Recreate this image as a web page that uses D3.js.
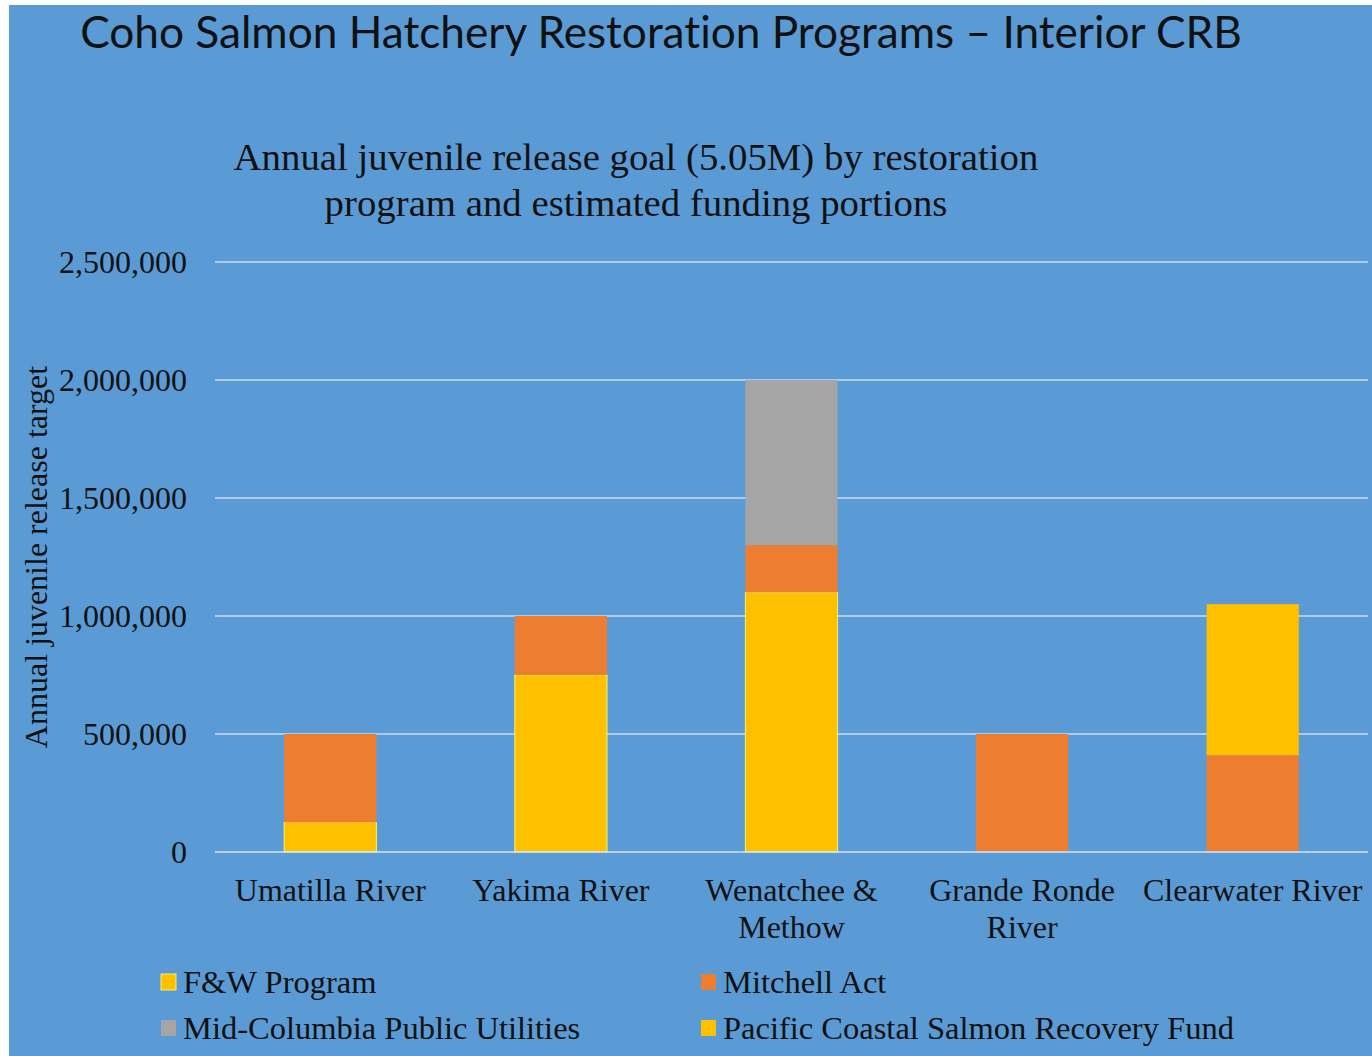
<!DOCTYPE html>
<html lang="en">
    <head>
        <title>Coho Salmon Hatchery Restoration Programs</title>
        <meta charset="utf-8">
        <script src="https://d3js.org/d3.v7.min.js"></script>
        <style>
            body { margin: 0; background: #ffffff; }
            svg { display: block; }
        </style>
    </head>
    <body>
        <div id="chart"></div>
    </body>
</html>

<script type="text/javascript">

// Chart data
var categories = ["Umatilla River", "Yakima River", "Wenatchee & Methow", "Grande Ronde River", "Clearwater River"];
var categoryLines = [["Umatilla River"], ["Yakima River"], ["Wenatchee &", "Methow"], ["Grande Ronde", "River"], ["Clearwater River"]];
var seriesNames = ["F&W Program", "Mitchell Act", "Mid-Columbia Public Utilities", "Pacific Coastal Salmon Recovery Fund"];
var fwProgram = [125000, 750000, 1100000, 0, 0];
var mitchellAct = [375000, 250000, 200000, 500000, 410000];
var midColumbia = [0, 0, 700000, 0, 0];
var pacificCoastal = [0, 0, 0, 0, 640000];
var yTicks = [0, 500000, 1000000, 1500000, 2000000, 2500000];

var width = 1372;
var height = 1056;
var serif = "'Liberation Serif', 'Times New Roman', serif";
var colours = ["#FFC000", "#ED7D31", "#A5A5A5", "#FFC000"];
var strokes = ["#F4F46A", "none", "none", "none"];

// build a table the stack layout can use
var table = categories.map(function(c, i){
    return {
        category: c,
        s0: fwProgram[i],
        s1: mitchellAct[i],
        s2: midColumbia[i],
        s3: pacificCoastal[i]
    };
});
var stacked = d3.stack().keys(["s0", "s1", "s2", "s3"])(table);

var svg = d3.select("#chart").append("svg")
    .attr("width", width)
    .attr("height", height);

// blue slide background
svg.append("rect")
    .attr("x", 9)
    .attr("y", 5)
    .attr("width", width - 9)
    .attr("height", height - 5)
    .attr("fill", "#5B9BD5");

// Title
svg.append("text")
    .attr("x", 661)
    .attr("y", 48)
    .attr("text-anchor", "middle")
    .attr("font-family", "Lato, 'Open Sans', sans-serif")
    .attr("font-size", 44.2)
    .style("font-variant-ligatures", "none")
    .attr("fill", "#111111")
    .text("Coho Salmon Hatchery Restoration Programs \u2013 Interior CRB");

// Chart subtitle
var subtitle = ["Annual juvenile release goal (5.05M) by restoration", "program and estimated funding portions"];
svg.selectAll(".subtitle")
    .data(subtitle)
    .enter().append("text")
    .attr("class", "subtitle")
    .attr("x", 636)
    .attr("y", function(d, i){ return 170 + i * 46; })
    .attr("text-anchor", "middle")
    .attr("font-family", serif)
    .attr("font-size", 38.8)
    .attr("fill", "#111111")
    .text(function(d){ return d; });

// Scales
var yScale = d3.scaleLinear()
    .domain([0, 2500000])
    .range([852, 262]);

var xScale = d3.scaleBand()
    .domain(categories)
    .range([215, 1368])
    .paddingInner(0.6)
    .paddingOuter(0.3);

// gridlines
svg.append("g")
    .selectAll("line")
    .data(yTicks.slice(1))
    .enter().append("line")
    .attr("x1", 215)
    .attr("x2", 1368)
    .attr("y1", function(d){ return yScale(d); })
    .attr("y2", function(d){ return yScale(d); })
    .attr("stroke", "#C9DDF1")
    .attr("stroke-width", 1.5);

// Stacked bars
svg.append("g")
    .selectAll("g")
    .data(stacked)
    .enter().append("g")
    .attr("fill", function(d, i){ return colours[i]; })
    .attr("stroke", function(d, i){ return strokes[i]; })
    .selectAll("rect")
    .data(function(d){ return d.filter(function(p){ return p[1] > p[0]; }); })
    .enter().append("rect")
    .attr("x", function(d){ return xScale(d.data.category); })
    .attr("y", function(d){ return yScale(d[1]); })
    .attr("width", xScale.bandwidth())
    .attr("height", function(d){ return yScale(d[0]) - yScale(d[1]); });

// zero line
svg.append("line")
    .attr("x1", 215)
    .attr("x2", 1368)
    .attr("y1", yScale(0))
    .attr("y2", yScale(0))
    .attr("stroke", "#D5E5F5")
    .attr("stroke-width", 1.5);

// y axis
var yAxis = d3.axisLeft(yScale)
    .tickValues(yTicks)
    .tickFormat(d3.format(","))
    .tickSize(0)
    .tickPadding(28);

var yAxisG = svg.append("g")
    .attr("transform", "translate(215, 0)")
    .call(yAxis);
yAxisG.select(".domain").remove();
yAxisG.selectAll("text")
    .attr("font-family", serif)
    .attr("font-size", 32)
    .attr("fill", "#111111");

// y axis title
svg.append("text")
    .attr("transform", "translate(47, 557) rotate(-90)")
    .attr("text-anchor", "middle")
    .attr("font-family", serif)
    .attr("font-size", 32)
    .attr("fill", "#111111")
    .text("Annual juvenile release target");

// x axis labels
var xLabels = svg.append("g")
    .selectAll("text")
    .data(categories)
    .enter().append("text")
    .attr("x", function(d){ return xScale(d) + xScale.bandwidth() / 2; })
    .attr("y", 901)
    .attr("text-anchor", "middle")
    .attr("font-family", serif)
    .attr("font-size", 32)
    .attr("fill", "#111111");

xLabels.selectAll("tspan")
    .data(function(d, i){ return categoryLines[i]; })
    .enter().append("tspan")
    .attr("x", function(){ var c = d3.select(this.parentNode).datum(); return xScale(c) + xScale.bandwidth() / 2; })
    .attr("dy", function(d, i){ return i === 0 ? 0 : 37; })
    .text(function(d){ return d; });

// Legend
var legendX = [161, 701];
var legendY = [982, 1028];
var legend = svg.append("g")
    .selectAll("g")
    .data(seriesNames)
    .enter().append("g")
    .attr("transform", function(d, i){
        return "translate(" + legendX[i % 2] + "," + legendY[Math.floor(i / 2)] + ")";
    });

legend.append("rect")
    .attr("x", 0)
    .attr("y", -8)
    .attr("width", 15)
    .attr("height", 16)
    .attr("fill", function(d, i){ return colours[i]; })
    .attr("stroke", function(d, i){ return strokes[i]; });

legend.append("text")
    .attr("x", 22)
    .attr("y", 11)
    .attr("font-family", serif)
    .attr("font-size", 32.5)
    .attr("fill", "#111111")
    .text(function(d){ return d; });

</script>
